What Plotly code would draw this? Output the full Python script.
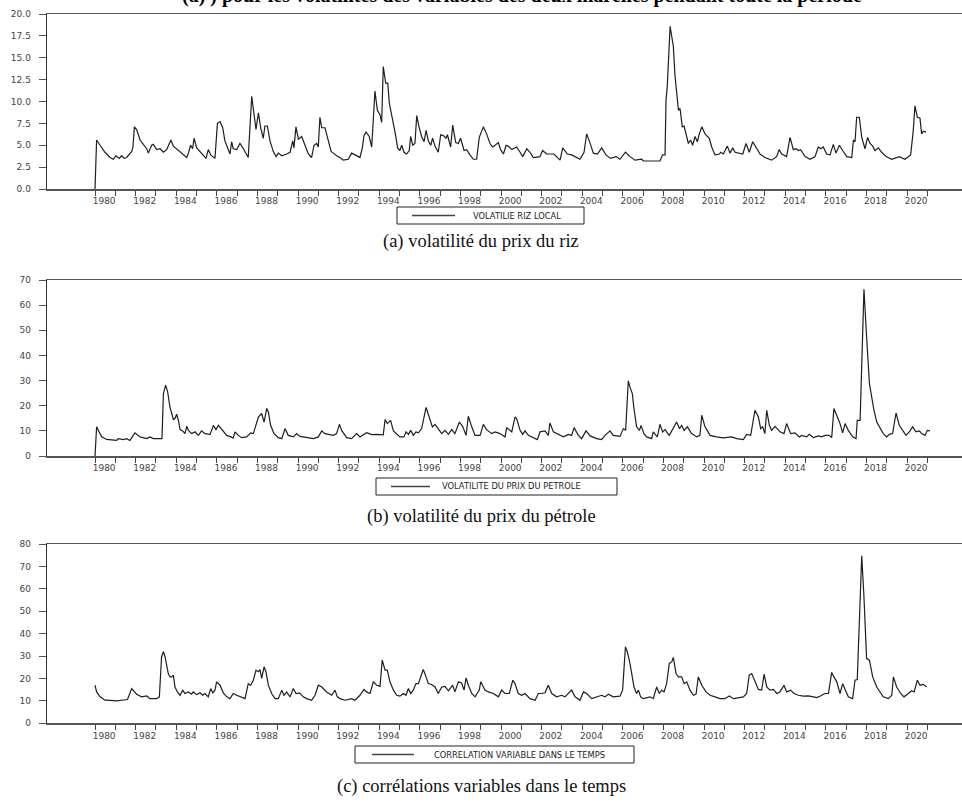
import plotly.graph_objects as go

W, H = 962, 807

# ---------------- data (decimal years) ----------------
RICE_YEARS = [1980.00, 1980.08, 1980.25, 1980.49, 1980.74, 1980.90, 1981.03, 1981.20, 1981.31, 1981.43,
              1981.56, 1981.72, 1981.81, 1981.87, 1981.94, 1982.05, 1982.22, 1982.38, 1982.55, 1982.63,
              1982.79, 1982.87, 1983.04, 1983.20, 1983.37, 1983.53, 1983.74, 1983.86, 1984.02, 1984.19,
              1984.35, 1984.52, 1984.60, 1984.71, 1984.81, 1984.88, 1985.01, 1985.17, 1985.34, 1985.47,
              1985.58, 1985.70, 1985.91, 1986.03, 1986.16, 1986.29, 1986.40, 1986.57, 1986.65, 1986.73,
              1986.81, 1986.98, 1987.14, 1987.31, 1987.55, 1987.72, 1987.83, 1987.93, 1988.05, 1988.16,
              1988.29, 1988.37, 1988.49, 1988.62, 1988.78, 1988.92, 1989.03, 1989.20, 1989.44, 1989.61,
              1989.74, 1989.80, 1989.90, 1990.02, 1990.18, 1990.34, 1990.51, 1990.67, 1990.79, 1990.92,
              1991.00, 1991.08, 1991.17, 1991.33, 1991.49, 1991.63, 1991.74, 1991.90, 1992.07, 1992.23,
              1992.48, 1992.64, 1992.81, 1993.05, 1993.17, 1993.25, 1993.35, 1993.51, 1993.63, 1993.79,
              1993.91, 1994.04, 1994.12, 1994.20, 1994.32, 1994.42, 1994.50, 1994.61, 1994.78, 1994.91,
              1995.02, 1995.11, 1995.22, 1995.35, 1995.48, 1995.55, 1995.65, 1995.76, 1995.85, 1995.96,
              1996.09, 1996.21, 1996.31, 1996.42, 1996.54, 1996.63, 1996.75, 1996.91, 1997.03, 1997.16,
              1997.29, 1997.36, 1997.52, 1997.62, 1997.77, 1997.90, 1998.01, 1998.18, 1998.31, 1998.47,
              1998.64, 1998.80, 1998.93, 1999.13, 1999.29, 1999.46, 1999.59, 1999.71, 1999.87, 1999.98,
              2000.12, 2000.25, 2000.36, 2000.53, 2000.77, 2000.94, 2001.07, 2001.27, 2001.43, 2001.59,
              2001.92, 2002.05, 2002.25, 2002.61, 2002.91, 2003.04, 2003.27, 2003.48, 2003.89, 2004.09,
              2004.22, 2004.38, 2004.55, 2004.75, 2004.96, 2005.17, 2005.40, 2005.67, 2005.86, 2006.13,
              2006.36, 2006.60, 2006.93, 2007.01, 2007.83, 2007.96, 2008.08, 2008.13, 2008.19, 2008.33,
              2008.41, 2008.49, 2008.57, 2008.65, 2008.74, 2008.82, 2008.93, 2009.02, 2009.11, 2009.23,
              2009.34, 2009.44, 2009.56, 2009.67, 2009.77, 2009.89, 2010.05, 2010.26, 2010.38, 2010.54,
              2010.76, 2010.82, 2010.95, 2011.15, 2011.28, 2011.41, 2011.53, 2011.77, 2011.91, 2012.07,
              2012.23, 2012.40, 2012.56, 2012.76, 2013.00, 2013.33, 2013.58, 2013.70, 2013.83, 2014.07,
              2014.24, 2014.40, 2014.53, 2014.65, 2014.76, 2014.98, 2015.22, 2015.47, 2015.63, 2015.75,
              2015.88, 2016.04, 2016.21, 2016.37, 2016.50, 2016.67, 2016.83, 2017.03, 2017.28, 2017.36,
              2017.44, 2017.52, 2017.65, 2017.77, 2017.93, 2018.06, 2018.18, 2018.31, 2018.42, 2018.59,
              2018.75, 2018.97, 2019.25, 2019.41, 2019.62, 2019.90, 2020.07, 2020.18, 2020.31, 2020.39,
              2020.51, 2020.64, 2020.72, 2020.81, 2020.94]
RICE_VOL = [0.0, 5.6, 5.0, 4.2, 3.6, 3.4, 3.8, 3.5, 3.8, 3.5,
            3.6, 4.0, 4.3, 4.8, 7.1, 6.8, 5.6, 5.1, 4.6, 4.1,
            5.0, 5.1, 4.5, 4.6, 4.2, 4.5, 5.6, 4.9, 4.6, 4.2,
            3.9, 3.6, 4.1, 5.0, 4.6, 5.8, 4.7, 4.3, 3.8, 3.5,
            4.5, 3.9, 3.5, 7.5, 7.7, 7.0, 5.5, 4.3, 4.0, 5.4,
            4.6, 4.5, 5.2, 4.6, 3.6, 10.6, 8.5, 6.8, 8.7, 7.0,
            5.8, 7.2, 7.2, 5.5, 4.3, 3.7, 4.1, 3.8, 4.0, 4.2,
            5.5, 4.7, 7.1, 5.7, 6.0, 5.0, 4.0, 3.6, 5.0, 5.2,
            4.8, 8.2, 7.0, 7.0, 5.5, 4.3, 4.1, 3.8, 3.6, 3.3,
            3.4, 4.1, 3.9, 3.6, 4.7, 6.1, 6.5, 6.0, 4.8, 11.2,
            9.0, 8.5, 7.6, 14.0, 12.1, 12.1, 9.8, 8.6, 6.5, 4.7,
            4.4, 5.0, 4.2, 4.0, 4.4, 6.0, 5.0, 5.2, 8.4, 7.1,
            6.0, 5.4, 6.7, 5.5, 5.0, 5.8, 4.9, 4.2, 6.2, 6.1,
            5.8, 6.2, 4.8, 7.3, 5.3, 5.2, 5.8, 4.4, 4.5, 3.9,
            3.4, 3.4, 5.9, 7.1, 6.3, 5.2, 4.8, 5.0, 5.3, 4.5,
            4.0, 5.0, 4.9, 4.5, 4.8, 4.2, 3.7, 4.6, 4.2, 3.6,
            3.7, 4.4, 4.0, 4.0, 3.3, 4.7, 4.0, 3.9, 3.4, 4.2,
            6.3, 5.3, 4.1, 4.0, 4.7, 3.9, 3.5, 3.7, 3.4, 4.2,
            3.7, 3.3, 3.4, 3.2, 3.2, 3.9, 3.9, 10.2, 11.7, 18.6,
            17.6, 16.3, 13.0, 10.9, 9.0, 9.2, 7.1, 7.2, 6.3, 5.2,
            5.6, 5.0, 6.0, 5.4, 6.3, 7.1, 6.3, 5.8, 4.8, 3.9,
            4.0, 4.2, 4.0, 4.9, 4.1, 4.7, 4.2, 4.1, 4.0, 5.2,
            4.2, 5.4, 4.8, 4.0, 3.6, 3.3, 3.7, 4.5, 4.0, 3.7,
            5.9, 4.5, 4.6, 4.4, 4.5, 3.7, 3.4, 3.7, 4.8, 4.6,
            4.8, 4.0, 3.9, 5.1, 4.1, 5.0, 4.4, 3.7, 3.6, 5.6,
            5.4, 8.2, 8.2, 5.9, 4.6, 5.9, 5.2, 4.9, 4.4, 4.7,
            4.2, 3.7, 3.4, 3.5, 3.7, 3.4, 3.7, 3.9, 6.7, 9.5,
            8.2, 8.1, 6.3, 6.6, 6.5]

OIL_YEARS = [1980.00, 1980.08, 1980.16, 1980.33, 1980.57, 1980.90, 1981.07, 1981.15, 1981.40, 1981.56,
             1981.72, 1981.97, 1982.22, 1982.55, 1982.71, 1982.87, 1983.30, 1983.37, 1983.48, 1983.58,
             1983.69, 1983.78, 1983.86, 1983.94, 1984.02, 1984.11, 1984.19, 1984.32, 1984.43, 1984.52,
             1984.60, 1984.76, 1984.93, 1985.09, 1985.25, 1985.42, 1985.67, 1985.83, 1985.96, 1986.08,
             1986.24, 1986.49, 1986.81, 1986.90, 1987.06, 1987.22, 1987.47, 1987.67, 1987.80, 1988.05,
             1988.21, 1988.33, 1988.46, 1988.54, 1988.65, 1988.82, 1989.03, 1989.20, 1989.36, 1989.52,
             1989.77, 1989.93, 1990.10, 1990.43, 1990.76, 1991.00, 1991.17, 1991.33, 1991.58, 1991.74,
             1991.90, 1992.04, 1992.15, 1992.40, 1992.64, 1992.89, 1993.05, 1993.38, 1993.63, 1993.88,
             1994.20, 1994.29, 1994.40, 1994.56, 1994.70, 1994.86, 1995.02, 1995.22, 1995.32, 1995.44,
             1995.55, 1995.68, 1995.81, 1995.93, 1996.09, 1996.31, 1996.50, 1996.62, 1996.75, 1996.91,
             1997.08, 1997.24, 1997.41, 1997.57, 1997.73, 1997.95, 1998.11, 1998.28, 1998.39, 1998.56,
             1998.72, 1998.97, 1999.13, 1999.29, 1999.54, 1999.71, 1999.95, 2000.20, 2000.28, 2000.53,
             2000.69, 2000.77, 2000.94, 2001.07, 2001.18, 2001.35, 2001.59, 2001.79, 2001.92, 2002.17,
             2002.33, 2002.41, 2002.58, 2002.82, 2003.07, 2003.32, 2003.48, 2003.60, 2003.81, 2003.97,
             2004.19, 2004.39, 2004.71, 2004.96, 2005.12, 2005.37, 2005.53, 2005.86, 2006.03, 2006.14,
             2006.27, 2006.36, 2006.47, 2006.55, 2006.68, 2006.82, 2006.90, 2007.04, 2007.18, 2007.42,
             2007.50, 2007.70, 2007.83, 2007.96, 2008.08, 2008.29, 2008.49, 2008.65, 2008.79, 2008.90,
             2009.02, 2009.18, 2009.39, 2009.64, 2009.80, 2009.89, 2010.05, 2010.30, 2010.62, 2010.95,
             2011.36, 2011.61, 2011.94, 2012.10, 2012.30, 2012.43, 2012.51, 2012.68, 2012.79, 2012.89,
             2013.00, 2013.09, 2013.22, 2013.33, 2013.50, 2013.74, 2013.94, 2014.07, 2014.27, 2014.48,
             2014.70, 2014.81, 2015.06, 2015.19, 2015.39, 2015.63, 2015.80, 2015.96, 2016.17, 2016.29,
             2016.40, 2016.57, 2016.70, 2016.83, 2016.95, 2017.11, 2017.32, 2017.49, 2017.55, 2017.69,
             2017.88, 2018.01, 2018.15, 2018.26, 2018.37, 2018.51, 2018.67, 2018.83, 2019.00, 2019.13,
             2019.29, 2019.46, 2019.62, 2019.82, 2019.95, 2020.11, 2020.28, 2020.44, 2020.61, 2020.72,
             2020.89, 2021.00, 2021.13]
OIL_VOL = [0.0, 11.6, 10.2, 7.6, 6.6, 6.5, 6.2, 6.9, 6.5, 6.9,
           6.2, 9.2, 7.6, 6.9, 7.6, 6.9, 6.9, 24.8, 28.2, 25.5,
           19.5, 16.9, 14.5, 14.9, 16.6, 14.2, 10.5, 10.0, 8.9, 11.8,
           10.2, 8.9, 9.6, 8.2, 10.0, 8.9, 8.6, 12.2, 10.5, 12.2,
           10.5, 8.2, 7.2, 9.6, 8.2, 7.3, 7.6, 9.2, 8.9, 15.5,
           16.9, 13.5, 18.9, 17.5, 12.2, 8.9, 7.3, 6.9, 10.9, 8.2,
           7.6, 8.9, 7.8, 7.3, 6.9, 7.6, 10.0, 8.9, 8.6, 8.2,
           8.9, 12.6, 10.2, 7.3, 6.9, 8.9, 7.6, 9.3, 8.5, 8.6,
           8.4, 14.5, 12.9, 14.2, 10.0, 8.9, 7.6, 7.6, 9.6, 8.6,
           10.2, 8.2, 9.6, 9.2, 10.9, 19.3, 14.2, 11.6, 12.6, 10.9,
           8.9, 10.2, 8.6, 10.5, 8.9, 13.5, 11.8, 8.2, 15.8, 11.6,
           8.2, 8.2, 12.6, 10.5, 8.9, 9.6, 8.9, 7.6, 11.3, 9.6,
           15.5, 14.9, 10.2, 8.6, 10.0, 8.2, 7.3, 6.5, 9.6, 10.0,
           8.2, 13.1, 9.6, 8.6, 7.6, 8.6, 8.2, 11.3, 8.2, 6.9,
           10.0, 8.0, 6.9, 6.5, 8.2, 10.0, 8.2, 7.8, 10.9, 10.2,
           29.9, 27.2, 24.8, 18.9, 11.6, 10.2, 12.2, 8.9, 7.6, 6.9,
           9.6, 7.6, 12.6, 9.6, 10.5, 8.2, 10.9, 13.5, 10.9, 12.2,
           10.2, 11.6, 8.9, 7.6, 8.2, 16.2, 11.6, 8.2, 7.6, 7.2,
           7.6, 6.9, 6.5, 8.6, 8.2, 15.5, 18.2, 15.5, 10.9, 11.6,
           8.9, 18.2, 12.2, 10.2, 11.8, 9.6, 8.9, 12.9, 8.9, 9.2,
           7.6, 8.2, 7.6, 8.6, 7.3, 8.0, 7.6, 8.2, 8.2, 7.3,
           18.9, 15.5, 12.9, 9.2, 12.9, 10.2, 7.6, 6.9, 14.2, 14.2,
           66.3, 47.4, 28.8, 23.5, 18.2, 13.5, 11.3, 8.9, 7.6, 8.6,
           8.9, 17.1, 12.2, 9.6, 8.2, 9.6, 11.6, 9.6, 10.0, 8.9,
           8.2, 10.2, 10.0]

CORR_YEARS = [1980.00, 1980.08, 1980.25, 1980.49, 1980.74, 1981.07, 1981.40, 1981.60, 1981.81, 1981.89,
              1982.05, 1982.30, 1982.55, 1982.71, 1982.87, 1983.04, 1983.17, 1983.28, 1983.37, 1983.45,
              1983.61, 1983.69, 1983.78, 1983.86, 1983.94, 1984.06, 1984.19, 1984.32, 1984.43, 1984.60,
              1984.76, 1984.84, 1985.01, 1985.17, 1985.30, 1985.42, 1985.58, 1985.70, 1985.80, 1985.91,
              1985.99, 1986.16, 1986.32, 1986.49, 1986.65, 1986.81, 1986.98, 1987.14, 1987.39, 1987.55,
              1987.67, 1987.80, 1987.93, 1988.05, 1988.13, 1988.21, 1988.33, 1988.42, 1988.54, 1988.70,
              1988.87, 1989.03, 1989.20, 1989.31, 1989.44, 1989.61, 1989.77, 1989.90, 1990.07, 1990.26,
              1990.43, 1990.67, 1990.84, 1991.00, 1991.17, 1991.41, 1991.66, 1991.82, 1991.94, 1992.07,
              1992.32, 1992.64, 1992.81, 1993.05, 1993.25, 1993.38, 1993.55, 1993.71, 1993.88, 1994.04,
              1994.15, 1994.29, 1994.40, 1994.53, 1994.70, 1994.86, 1995.02, 1995.19, 1995.32, 1995.44,
              1995.55, 1995.68, 1995.81, 1995.93, 1996.17, 1996.31, 1996.42, 1996.58, 1996.75, 1996.91,
              1997.08, 1997.24, 1997.41, 1997.62, 1997.73, 1997.90, 1998.06, 1998.18, 1998.28, 1998.39,
              1998.56, 1998.72, 1998.93, 1999.00, 1999.21, 1999.38, 1999.62, 1999.87, 2000.03, 2000.20,
              2000.41, 2000.58, 2000.69, 2000.85, 2001.02, 2001.18, 2001.43, 2001.68, 2001.84, 2002.00,
              2002.17, 2002.33, 2002.50, 2002.74, 2002.99, 2003.15, 2003.32, 2003.48, 2003.65, 2003.89,
              2004.06, 2004.22, 2004.47, 2004.71, 2004.96, 2005.12, 2005.29, 2005.53, 2005.86, 2005.99,
              2006.13, 2006.22, 2006.32, 2006.44, 2006.55, 2006.68, 2006.77, 2006.88, 2007.01, 2007.34,
              2007.50, 2007.67, 2007.80, 2007.92, 2008.03, 2008.16, 2008.29, 2008.41, 2008.49, 2008.62,
              2008.74, 2008.90, 2009.02, 2009.15, 2009.31, 2009.48, 2009.61, 2009.72, 2009.89, 2010.10,
              2010.30, 2010.54, 2010.79, 2011.03, 2011.25, 2011.45, 2011.69, 2011.94, 2012.10, 2012.23,
              2012.35, 2012.51, 2012.68, 2012.84, 2012.96, 2013.09, 2013.25, 2013.42, 2013.58, 2013.74,
              2013.94, 2014.07, 2014.27, 2014.43, 2014.65, 2014.89, 2015.14, 2015.39, 2015.55, 2015.71,
              2015.96, 2016.13, 2016.29, 2016.40, 2016.54, 2016.70, 2016.83, 2016.95, 2017.11, 2017.32,
              2017.44, 2017.55, 2017.77, 2017.88, 2018.01, 2018.15, 2018.31, 2018.51, 2018.67, 2018.83,
              2019.08, 2019.25, 2019.33, 2019.49, 2019.69, 2019.85, 2020.07, 2020.23, 2020.35, 2020.51,
              2020.64, 2020.80, 2020.97]
CORR_VAL = [17.0, 14.0, 11.8, 10.3, 10.2, 10.0, 10.4, 10.6, 15.5, 14.8,
            13.0, 11.8, 12.2, 11.0, 11.0, 11.0, 11.8, 29.7, 31.9, 29.7,
            22.2, 20.7, 20.7, 21.5, 16.2, 14.0, 12.5, 14.8, 13.3, 14.0,
            13.0, 14.0, 12.8, 13.6, 12.5, 13.3, 11.8, 15.5, 13.6, 14.8,
            18.5, 17.0, 13.6, 11.8, 11.0, 13.3, 12.5, 11.8, 11.0, 17.7,
            17.0, 19.2, 23.7, 23.0, 24.0, 20.0, 25.2, 23.0, 17.0, 13.3,
            11.0, 11.0, 14.8, 12.5, 14.0, 11.8, 15.5, 13.3, 13.6, 11.8,
            11.0, 10.3, 12.5, 17.0, 16.2, 14.0, 12.5, 14.8, 11.8, 11.0,
            10.3, 11.0, 10.3, 12.5, 15.1, 14.0, 13.3, 18.5, 17.0, 16.5,
            28.2, 23.7, 23.7, 18.5, 14.8, 12.5, 12.1, 13.3, 12.5, 15.5,
            13.3, 14.8, 17.7, 17.7, 24.0, 20.7, 17.7, 17.3, 16.2, 13.3,
            16.2, 16.5, 14.5, 17.0, 14.0, 18.5, 18.0, 14.8, 20.3, 17.0,
            13.3, 11.8, 14.8, 18.5, 14.8, 14.0, 13.3, 11.8, 14.8, 13.3,
            13.3, 19.2, 17.7, 13.3, 12.5, 13.3, 11.0, 10.3, 13.3, 13.3,
            13.6, 17.0, 13.3, 11.8, 12.5, 11.8, 13.3, 14.8, 11.8, 10.3,
            14.0, 13.3, 11.0, 11.8, 12.5, 11.8, 13.0, 11.8, 12.1, 14.8,
            34.1, 31.9, 28.2, 22.2, 16.2, 13.3, 14.8, 11.8, 11.0, 11.8,
            11.0, 16.2, 13.3, 14.8, 14.0, 17.7, 26.7, 27.4, 29.4, 22.2,
            20.7, 20.7, 17.7, 18.5, 14.8, 12.5, 13.0, 20.7, 17.0, 14.0,
            12.5, 11.8, 11.0, 11.0, 12.2, 11.0, 11.5, 11.8, 13.3, 21.5,
            22.2, 18.5, 15.1, 14.8, 21.9, 16.2, 14.8, 15.1, 13.3, 14.0,
            17.0, 14.0, 14.8, 13.3, 12.5, 12.1, 12.2, 11.8, 11.5, 12.1,
            13.3, 13.3, 22.7, 20.7, 18.5, 13.3, 17.7, 15.1, 11.8, 11.0,
            19.2, 19.5, 74.7, 56.5, 28.9, 28.2, 20.7, 16.2, 14.0, 11.8,
            11.0, 12.5, 20.7, 16.2, 13.3, 11.8, 13.3, 14.5, 14.0, 19.2,
            17.0, 17.4, 16.2]

YEAR_LABELS = list(range(1980, 2021, 2))
YEAR_TICKS = list(range(1980, 2022))

SERIES_NAMES = ["VOLATILIE RIZ LOCAL", "VOLATILITE DU PRIX DU PETROLE",
                "CORRELATION VARIABLE DANS LE TEMPS"]
CAPTIONS = ["(a) volatilité du prix du riz", "(b) volatilité du prix du pétrole",
            "(c) corrélations variables dans le temps"]


def fx(p):
    return p / W


def fy(p):
    return 1 - p / H


# plot-area geometry in pixels
X_LEFT_PX = 47
PX_PER_YEAR = 20.3
X0 = 1980 - (95 - X_LEFT_PX) / PX_PER_YEAR
X1 = X0 + (W - X_LEFT_PX) / PX_PER_YEAR

panels = [
    dict(x=RICE_YEARS, y=RICE_VOL, top=14, bottom=189, yr=[0, 20], dtick=2.5, fmt=".1f",
         box=(397, 584, 207, 224), line=(412, 455), text_x=471, cap_y=241),
    dict(x=OIL_YEARS, y=OIL_VOL, top=280, bottom=456, yr=[0, 70], dtick=10, fmt="d",
         box=(376, 617, 478, 495), line=(391, 430), text_x=440, cap_y=516),
    dict(x=CORR_YEARS, y=CORR_VAL, top=544, bottom=723.3, yr=[0, 80], dtick=10, fmt="d",
         box=(355, 634, 746, 763), line=(372, 414), text_x=432, cap_y=786),
]

fig = go.Figure()
shapes = []
annotations = []
tick_font = dict(family="DejaVu Sans", size=9, color="#444")

for i, p in enumerate(panels):
    sfx = "" if i == 0 else str(i + 1)
    fig.add_trace(go.Scatter(x=p["x"], y=p["y"], mode="lines", name=SERIES_NAMES[i],
                             line=dict(color="#1e1e1e", width=1.2),
                             xaxis="x" + sfx, yaxis="y" + sfx, showlegend=False,
                             hoverinfo="skip"))
    fig.layout["xaxis" + sfx] = dict(
        domain=[fx(X_LEFT_PX), 1], range=[X0, X1], anchor="y" + sfx,
        showgrid=False, zeroline=False, showline=True, linecolor="#555", linewidth=1.5,
        mirror=True, tickmode="array", tickvals=[y + 0.45 for y in YEAR_LABELS],
        ticktext=[str(y) for y in YEAR_LABELS], ticks="", tickfont=tick_font,
        ticklabelstandoff=3,
        minor=dict(tickmode="array", tickvals=YEAR_TICKS, ticks="outside", ticklen=5,
                   tickcolor="#444", tickwidth=1, showgrid=False),
        automargin=False, fixedrange=True)
    fig.layout["yaxis" + sfx] = dict(
        domain=[fy(p["bottom"]), fy(p["top"])], range=p["yr"], anchor="x" + sfx,
        showgrid=False, zeroline=False, showline=True, linecolor="#333", linewidth=1.3,
        tickmode="linear", tick0=0, dtick=p["dtick"], tickformat=p["fmt"],
        ticks="outside", ticklen=7, tickcolor="#555", tickwidth=1,
        tickfont=tick_font, ticklabelstandoff=6, automargin=False, fixedrange=True)

    bx0, bx1, by0, by1 = p["box"]
    ymid = (by0 + by1) / 2
    shapes.append(dict(type="rect", xref="paper", yref="paper",
                       x0=fx(bx0), x1=fx(bx1), y0=fy(by1), y1=fy(by0),
                       line=dict(color="#222", width=1), fillcolor="white"))
    shapes.append(dict(type="line", xref="paper", yref="paper",
                       x0=fx(p["line"][0]), x1=fx(p["line"][1]), y0=fy(ymid), y1=fy(ymid),
                       line=dict(color="#444", width=1.3)))
    annotations.append(dict(text=SERIES_NAMES[i], xref="paper", yref="paper",
                            x=fx(p["text_x"]), y=fy(ymid), xanchor="left", yanchor="middle",
                            showarrow=False,
                            font=dict(family="DejaVu Sans", size=8.3, color="#222")))
    annotations.append(dict(text=CAPTIONS[i], xref="paper", yref="paper",
                            x=fx(481), y=fy(p["cap_y"]), xanchor="center", yanchor="middle",
                            showarrow=False,
                            font=dict(family="Liberation Serif", size=18.5, color="#111")))

# top heading, cut off by the upper edge of the picture (as in the reference)
annotations.append(dict(text="(a) ) pour les volatilités des variables des deux marchés pendant toute la période",
                        xref="paper", yref="paper", x=fx(180), y=fy(9), xanchor="left",
                        yanchor="bottom", showarrow=False,
                        font=dict(family="Liberation Serif", size=20, color="#000",
                                  weight="bold")))

fig.update_layout(width=W, height=H, margin=dict(l=0, r=0, t=0, b=0, autoexpand=False),
                  template="none", paper_bgcolor="white", plot_bgcolor="white",
                  showlegend=False, shapes=shapes, annotations=annotations,
                  hovermode=False)

fig.write_html("out.html", config={"displayModeBar": False, "staticPlot": True},
               post_script="document.body.style.margin='0';document.body.style.overflow='hidden';")
